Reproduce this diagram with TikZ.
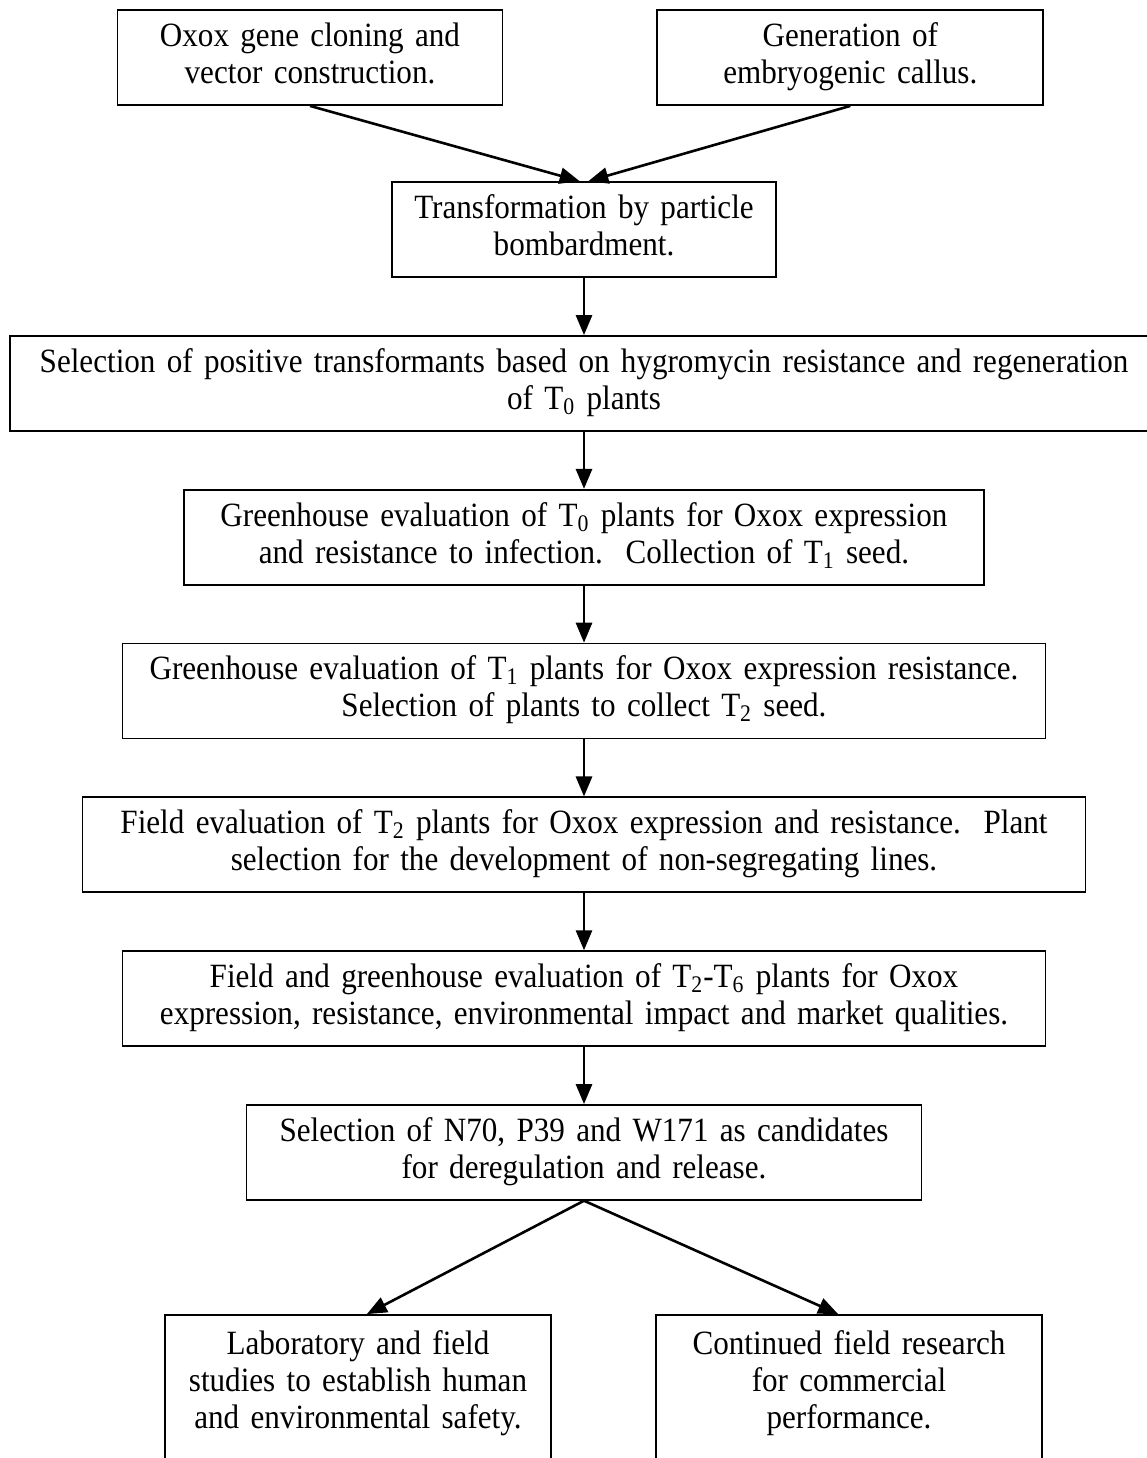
\documentclass[tikz,border=0pt]{standalone}
\usepackage{fontspec}
\setmainfont{Liberation Serif}[FakeStretch=0.915]
\usetikzlibrary{positioning,arrows}
\tikzset{
  stage/.style={draw=black, line width=0.9pt, inner xsep=0pt, inner ysep=0pt,
    minimum height=47.5pt, align=center, font=\fontsize{17}{18.5}\selectfont,
    execute at begin node=\strut, execute at end node=\strut},
  flow/.style={line width=1.3pt, draw=black, -triangle 45}
}

\begin{document}
\begin{tikzpicture}[node distance=28.5pt]
    \useasboundingbox (0,0) rectangle (573.5pt,-729pt);

    \node[stage, text width=192.5pt] (oxox) at (155pt,-28.75pt)
      {Oxox gene cloning and\\ vector construction.};
    \node[stage, text width=193pt, right=76.5pt of oxox] (callus)
      {Generation of\\ embryogenic callus.};
    \node[stage, text width=192pt] (transf) at (292pt,-114.75pt)
      {Transformation by particle\\ bombardment.};

    \draw[flow] (oxox.south) -- ([xshift=-2.25pt]transf.north);
    \draw[flow] (callus.south) -- ([xshift=2.25pt]transf.north);

    \node[stage, text width=574pt, below=of transf] (select)
      {Selection of positive transformants based on hygromycin resistance and regeneration\\ of T\textsubscript{0} plants};
    \node[stage, text width=400pt, below=of select] (ghzero)
      {Greenhouse evaluation of T\textsubscript{0} plants for Oxox expression\\ and resistance to infection.\ \ Collection of T\textsubscript{1} seed.};
    \node[stage, text width=461.5pt, below=of ghzero] (ghone)
      {Greenhouse evaluation of T\textsubscript{1} plants for Oxox expression resistance.\\ Selection of plants to collect T\textsubscript{2} seed.};
    \node[stage, text width=501.5pt, below=of ghone] (fieldtwo)
      {Field evaluation of T\textsubscript{2} plants for Oxox expression and resistance.\ \ Plant\\ selection for the development of non-segregating lines.};
    \node[stage, text width=461.5pt, below=of fieldtwo] (fieldsix)
      {Field and greenhouse evaluation of T\textsubscript{2}-T\textsubscript{6} plants for Oxox\\ expression, resistance, environmental impact and market qualities.};
    \node[stage, text width=337.5pt, below=of fieldsix] (cand)
      {Selection of N70, P39 and W171 as candidates\\ for deregulation and release.};

    \draw[flow] (transf) -- (select);
    \draw[flow] (select) -- (ghzero);
    \draw[flow] (ghzero) -- (ghone);
    \draw[flow] (ghone) -- (fieldtwo);
    \draw[flow] (fieldtwo) -- (fieldsix);
    \draw[flow] (fieldsix) -- (cand);

    % bottom boxes run off the page
    \node[stage, text width=193pt, inner ysep=7pt, text depth=62pt, anchor=north] (safety) at (179pt,-657pt)
      {Laboratory and field\\ studies to establish human\\ and environmental safety.};
    \node[stage, text width=193pt, inner ysep=7pt, text depth=62pt, anchor=north] (research) at (424.5pt,-657pt)
      {Continued field research\\ for commercial\\ performance.};

    \draw[flow] (cand.south) -- ([xshift=4.5pt]safety.north);
    \draw[flow] (cand.south) -- ([xshift=-5.5pt]research.north);
\end{tikzpicture}
\end{document}
